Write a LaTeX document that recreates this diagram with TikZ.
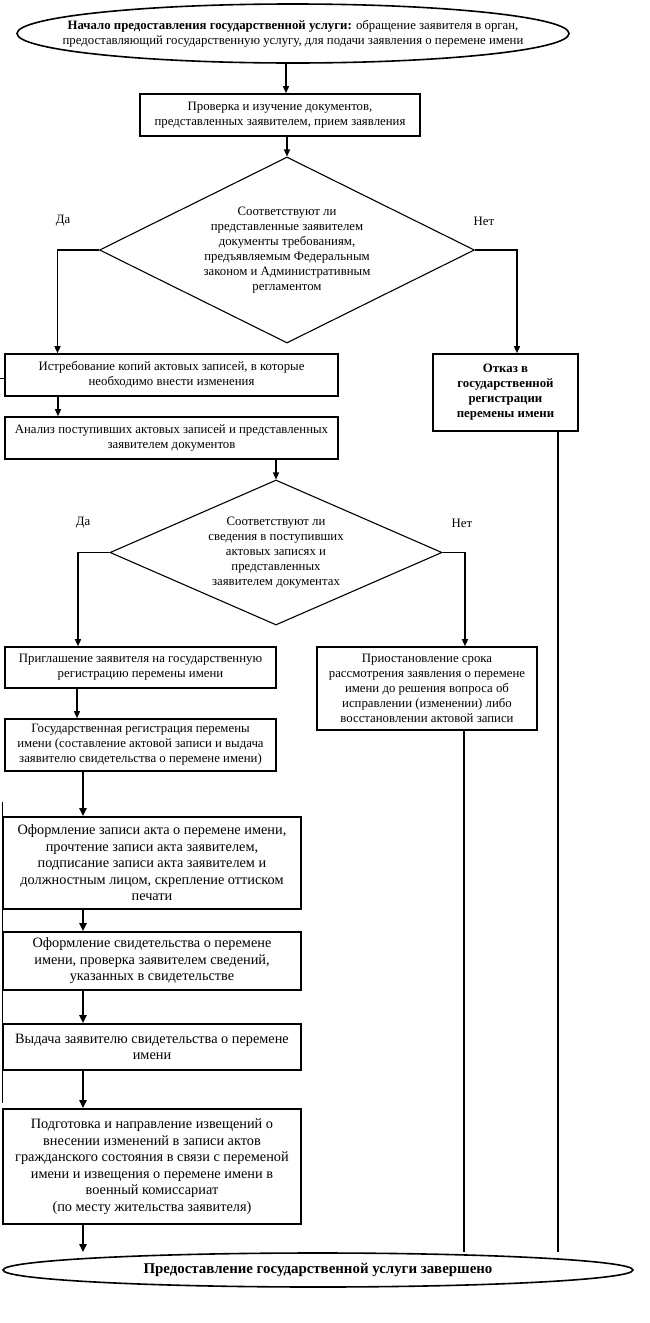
\documentclass[tikz,border=0pt]{standalone}
\usepackage{fontspec}
\setmainfont{Liberation Serif}
\usetikzlibrary{shapes.geometric,arrows.meta}

\newcommand{\smalltext}{\fontsize{12.8}{15}\selectfont}
\newcommand{\bigtext}{\fontsize{14.3}{16.5}\selectfont}

\tikzset{
    stepbox/.style={draw, line width=1.6pt, align=center, inner sep=2pt, font=\smalltext},
    bigbox/.style={stepbox, font=\bigtext},
    endbox/.style={draw, ellipse, line width=1.6pt, align=center, inner xsep=-40pt, inner ysep=0pt},
    question/.style={draw, diamond, aspect=2, inner sep=0pt, line width=1.1pt, align=center, font=\smalltext},
    answer/.style={font=\smalltext},
    flow/.style={-{Triangle[length=7pt,width=6pt]}, line width=1.4pt},
    thickflow/.style={-{Triangle[length=8pt,width=7pt]}, line width=2.6pt},
    link/.style={line width=2.2pt}
}

\begin{document}
\begin{tikzpicture}[x=1pt, y=-1pt]
    \useasboundingbox (0,0) rectangle (650,1323);

    \node[endbox, minimum width=552pt, minimum height=59pt, font=\smalltext] (start) at (293,33.5)
        {\textbf{Начало предоставления государственной услуги:} обращение заявителя в орган,\\
         предоставляющий государственную услугу, для подачи заявления о перемене имени};
    \node[stepbox, minimum width=280pt, minimum height=42pt] (check) at (280,115)
        {Проверка и изучение документов,\\ представленных заявителем, прием заявления};
    \node[question, minimum width=375pt, minimum height=186pt] (decA) at (287,250)
        {Соответствуют ли\\ представленные заявителем\\ документы требованиям,\\
         предъявляемым Федеральным\\ законом и Административным\\ регламентом};
    \node[answer] (yesA) at (63,221) {Да};
    \node[answer] (noA) at (484,221) {Нет};

    \node[stepbox, minimum width=333pt, minimum height=42pt] (request) at (171.5,375)
        {Истребование копий актовых записей, в которые\\ необходимо внести изменения};
    \node[stepbox, minimum width=145pt, minimum height=77pt, font=\smalltext\bfseries] (refuse) at (505.5,392.5)
        {Отказ в\\ государственной\\ регистрации\\ перемены имени};
    \node[stepbox, minimum width=333pt, minimum height=42pt] (analysis) at (171.5,438)
        {Анализ поступивших актовых записей и представленных\\ заявителем документов};

    \node[question, minimum width=332pt, minimum height=145pt] (decB) at (276,552.5)
        {Соответствуют ли\\ сведения в поступивших\\ актовых записях и\\ представленных\\ заявителем документах};
    \node[answer] (yesB) at (83,523) {Да};
    \node[answer] (noB) at (462,523) {Нет};

    \node[stepbox, minimum width=271pt, minimum height=41pt] (invite) at (140.5,667.5)
        {Приглашение заявителя на государственную\\ регистрацию перемены имени};
    \node[stepbox, minimum width=220pt, minimum height=83pt] (suspend) at (427,688.5)
        {Приостановление срока\\ рассмотрения заявления о перемене\\ имени до решения вопроса об\\
         исправлении (изменении) либо\\ восстановлении актовой записи};
    \node[stepbox, minimum width=271pt, minimum height=52pt] (register) at (140.5,745)
        {Государственная регистрация перемены\\ имени (составление актовой записи и выдача\\
         заявителю свидетельства о перемене имени)};

    \node[bigbox, minimum width=298pt, minimum height=92pt] (record) at (152,863)
        {Оформление записи акта о перемене имени,\\ прочтение записи акта заявителем,\\
         подписание записи акта заявителем и\\ должностным лицом, скрепление оттиском\\ печати};
    \node[bigbox, minimum width=298pt, minimum height=58pt] (certificate) at (152,961)
        {Оформление свидетельства о перемене\\ имени, проверка заявителем сведений,\\ указанных в свидетельстве};
    \node[bigbox, minimum width=298pt, minimum height=46pt] (issue) at (152,1047)
        {Выдача заявителю свидетельства о перемене\\ имени};
    \node[bigbox, minimum width=298pt, minimum height=115pt] (notify) at (152,1166.5)
        {Подготовка и направление извещений о\\ внесении изменений в записи актов\\
         гражданского состояния в связи с переменой\\ имени и извещения о перемене имени в\\
         военный комиссариат\\ (по месту жительства заявителя)};

    \node[endbox, minimum width=630pt, minimum height=34pt, font=\fontsize{14.9}{17}\selectfont\bfseries] (finish) at (318,1270)
        {Предоставление государственной услуги завершено};

    \draw[flow] ([xshift=-7pt]start.south) -- ([xshift=-7pt]start.south |- check.north);
    \draw[flow] (check.south -| decA.north) -- (decA.north);
    \draw[flow] (decA.west) -| ([xshift=-114pt]request.north);
    \draw[flow] (decA.east) -| ([xshift=11.5pt]refuse.north);
    \draw[flow] ([xshift=-113.5pt]request.south) -- ([xshift=-113.5pt]analysis.north);
    \draw[flow] (analysis.south -| decB.north) -- (decB.north);
    \draw[flow] (decB.west) -| ([xshift=-62.5pt]invite.north);
    \draw[flow] (decB.east) -| ([xshift=38pt]suspend.north);
    \draw[flow] ([xshift=-63.5pt]invite.south) -- ([xshift=-63.5pt]register.north);

    \draw[thickflow] ([xshift=-57.5pt]register.south) -- ([xshift=-57.5pt]register.south |- record.north);
    \draw[thickflow] ([xshift=-69pt]record.south) -- ([xshift=-69pt]certificate.north);
    \draw[thickflow] ([xshift=-69pt]certificate.south) -- ([xshift=-69pt]issue.north);
    \draw[thickflow] ([xshift=-69pt]issue.south) -- ([xshift=-69pt]notify.north);
    \draw[thickflow] ([xshift=-69pt]notify.south) -- ([xshift=-69pt]notify.south |- finish.north);

    \draw[link] ([xshift=37pt]suspend.south) -- ([xshift=37pt]suspend.south |- finish.north);
    \draw[link] ([xshift=52.5pt]refuse.south) -- ([xshift=52.5pt]refuse.south |- finish.north);

    \draw[line width=1pt] ([yshift=-3pt]request.west) -- ++(-5,0);
    \draw[line width=1pt] (2,802) -- (2,1103);
\end{tikzpicture}
\end{document}
